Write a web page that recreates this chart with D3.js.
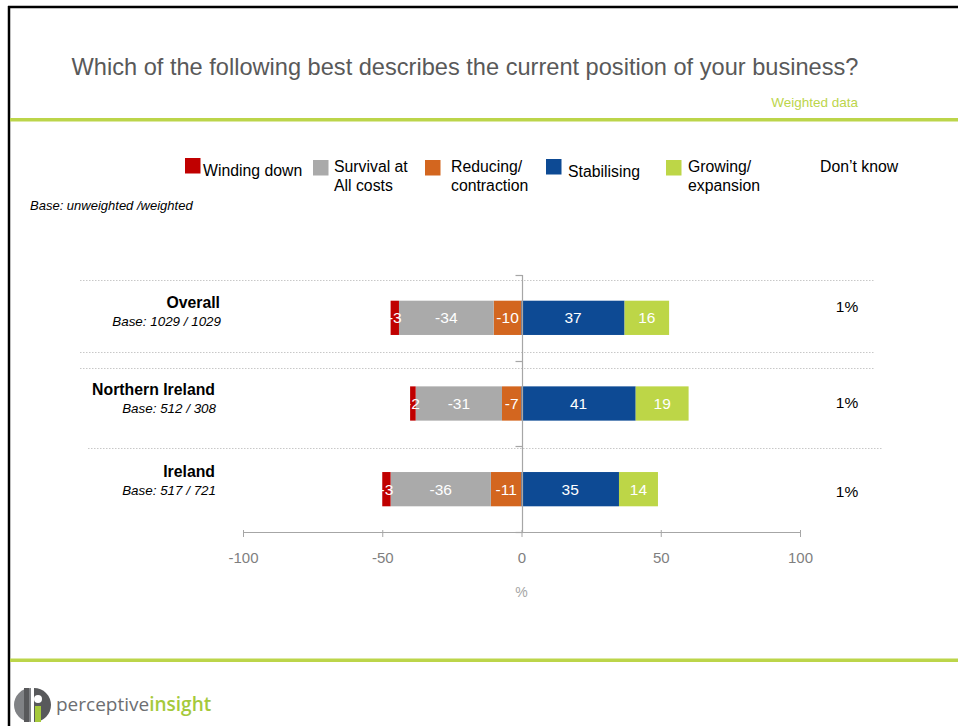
<!DOCTYPE html>
<html>
<head>
<meta charset="utf-8">
<script src="https://cdn.jsdelivr.net/npm/d3@7"></script>
<style>
  html, body { margin: 0; padding: 0; background: #fff; }
  svg { display: block; font-family: "Liberation Sans", Arial, sans-serif; }
</style>
</head>
<body>
<svg id="chart" width="958" height="726"></svg>
<script>
// Survey categories (rows) and their base sizes
const categories = ["Overall", "Northern Ireland", "Ireland"];
const bases = ["Base: 1029 / 1029", "Base: 512 / 308", "Base: 517 / 721"];

// Response shares (%); negative answers are plotted to the left of zero
const windingDown = [-3, -2, -3];
const survival = [-34, -31, -36];
const reducing = [-10, -7, -11];
const stabilising = [37, 41, 35];
const growing = [16, 19, 14];
const dontKnow = [1, 1, 1];

const xTicks = [-100, -50, 0, 50, 100];

// Series in stacking order outward from zero
const negSeries = [
  { key: "Reducing/ contraction", values: reducing, color: "#d3661f" },
  { key: "Survival at All costs", values: survival, color: "#aaaaaa" },
  { key: "Winding down", values: windingDown, color: "#c00000" }
];
const posSeries = [
  { key: "Stabilising", values: stabilising, color: "#0d4a94" },
  { key: "Growing/ expansion", values: growing, color: "#bdd647" }
];

const legendItems = [
  { lines: ["Winding down"], color: "#c00000", sx: 185, sy: 158, tx: 203, ty: 176 },
  { lines: ["Survival at", "All costs"], color: "#aaaaaa", sx: 313, sy: 160, tx: 334, ty: 172 },
  { lines: ["Reducing/", "contraction"], color: "#d3661f", sx: 425, sy: 160, tx: 451, ty: 172 },
  { lines: ["Stabilising"], color: "#0d4a94", sx: 546, sy: 159, tx: 568, ty: 177 },
  { lines: ["Growing/", "expansion"], color: "#bdd647", sx: 666, sy: 160, tx: 688, ty: 172 },
  { lines: ["Don\u2019t know"], color: null, sx: 0, sy: 0, tx: 820, ty: 172 }
];

const svg = d3.select("#chart");
const green = "#bcd54a";

// Slide frame
svg.append("line").attr("x1", 8).attr("x2", 958).attr("y1", 7).attr("y2", 7)
  .attr("stroke", "#000").attr("stroke-width", 2.5);
svg.append("line").attr("x1", 9).attr("x2", 9).attr("y1", 6).attr("y2", 726)
  .attr("stroke", "#000").attr("stroke-width", 2.5);

// Title block
svg.append("text").attr("x", 465).attr("y", 75).attr("text-anchor", "middle")
  .attr("font-size", 23.6).attr("fill", "#595959")
  .text("Which of the following best describes the current position of your business?");
svg.append("text").attr("x", 858).attr("y", 107).attr("text-anchor", "end")
  .attr("font-size", 13.5).attr("fill", green).text("Weighted data");
svg.append("rect").attr("x", 10).attr("y", 118).attr("width", 948).attr("height", 3.5).attr("fill", green);
svg.append("rect").attr("x", 10).attr("y", 658.5).attr("width", 948).attr("height", 3.5).attr("fill", green);

// Legend
const lg = svg.append("g").attr("class", "legend");
legendItems.forEach(d => {
  if (d.color) {
    lg.append("rect").attr("x", d.sx).attr("y", d.sy).attr("width", 15.5).attr("height", 15.5).attr("fill", d.color);
  }
  const t = lg.append("text").attr("x", d.tx).attr("y", d.ty).attr("font-size", 15.8).attr("fill", "#000");
  d.lines.forEach((l, i) => t.append("tspan").attr("x", d.tx).attr("dy", i === 0 ? 0 : 18.5).text(l));
});

svg.append("text").attr("x", 30).attr("y", 210).attr("font-size", 13).attr("font-style", "italic")
  .attr("fill", "#000").text("Base: unweighted /weighted");

// Scales
const x = d3.scaleLinear().domain([-100, 100]).range([243, 800]);
const y = d3.scaleBand().domain(categories).range([275, 532]).paddingInner(0.6).paddingOuter(0.3);

// Dotted row separators
const sepColor = "#c8c8c8";
const seps = [
  { y: 280, x1: 80, x2: 874 },
  { y: 352, x1: 80, x2: 874 },
  { y: 368, x1: 80, x2: 874 },
  { y: 448, x1: 88, x2: 882 }
];
svg.append("g").selectAll("line").data(seps).join("line")
  .attr("x1", d => d.x1).attr("x2", d => d.x2).attr("y1", d => d.y + 0.5).attr("y2", d => d.y + 0.5)
  .attr("stroke", sepColor).attr("stroke-width", 1).attr("stroke-dasharray", "1.5,1.5");

// Stack segments
function segments(series) {
  const out = [];
  categories.forEach((c, i) => {
    let acc = 0;
    series.forEach(s => {
      const v = s.values[i];
      out.push({ cat: c, v: v, start: acc, end: acc + v, color: s.color });
      acc += v;
    });
  });
  return out;
}
const segs = segments(negSeries).concat(segments(posSeries));

const bars = svg.append("g");
bars.selectAll("rect").data(segs).join("rect")
  .attr("x", d => x(Math.min(d.start, d.end)))
  .attr("width", d => Math.abs(x(d.end) - x(d.start)))
  .attr("y", d => y(d.cat))
  .attr("height", y.bandwidth())
  .attr("fill", d => d.color);
bars.selectAll("text").data(segs).join("text")
  .attr("x", d => x((d.start + d.end) / 2))
  .attr("y", d => y(d.cat) + y.bandwidth() / 2 + 5.5)
  .attr("text-anchor", "middle").attr("font-size", 15.5).attr("fill", "#fff")
  .text(d => d.v);

// Axes
const axisColor = "#a6a6a6";
const xAxis = svg.append("g").attr("transform", "translate(0,532)")
  .call(d3.axisBottom(x).tickValues(xTicks).tickSize(5).tickPadding(15).tickFormat(d => String(d)));
xAxis.select(".domain").attr("stroke", axisColor).attr("d", `M${x(-100)},0.5H${x(100)}`);
xAxis.selectAll(".tick line").attr("stroke", axisColor).attr("y1", -2);
xAxis.selectAll(".tick text").attr("fill", "#7f7f7f").attr("font-size", 15)
  .attr("font-family", "'Liberation Sans', Arial, sans-serif");

// Vertical zero axis with ticks at band boundaries
const zx = Math.round(x(0)) + 0.5;
const yAxis = svg.append("g");
yAxis.append("line").attr("x1", zx).attr("x2", zx).attr("y1", 275).attr("y2", 532)
  .attr("stroke", axisColor).attr("stroke-width", 1.2);
const boundaryY = [275].concat(categories.slice(1).map(c => y(c) - y.step() * y.paddingInner() / 2)).concat([532]);
yAxis.selectAll(".yt").data(boundaryY).join("line").attr("class", "yt")
  .attr("x1", zx - 7).attr("x2", zx).attr("y1", d => Math.round(d) + 0.5).attr("y2", d => Math.round(d) + 0.5)
  .attr("stroke", axisColor).attr("stroke-width", 1.2);

svg.append("text").attr("x", x(0)).attr("y", 597).attr("text-anchor", "middle")
  .attr("font-size", 14).attr("fill", "#a6a6a6").text("%");

// Category labels
const labels = svg.append("g");
categories.forEach((c, i) => {
  const cy = y(c) + y.bandwidth() / 2;
  const dy = [-10, -9, -12][i];
  labels.append("text").attr("x", [220, 215, 215][i]).attr("y", cy + dy)
    .attr("text-anchor", "end").attr("font-size", 15.8).attr("font-weight", "bold").attr("fill", "#000").text(c);
  labels.append("text").attr("x", [221, 216, 216][i]).attr("y", cy + dy + 18)
    .attr("text-anchor", "end").attr("font-size", 13.4).attr("font-style", "italic").attr("fill", "#000").text(bases[i]);
});

// Don't know values
const dkOffsets = [-6, 4, 8];
svg.append("g").selectAll("text").data(categories).join("text")
  .attr("x", 847).attr("y", (c, i) => y(c) + y.bandwidth() / 2 + dkOffsets[i])
  .attr("text-anchor", "middle").attr("font-size", 15.5).attr("fill", "#000")
  .text((c, i) => dontKnow[i] + "%");

// Brand mark
const logo = svg.append("g").attr("transform", "translate(33,705)");
logo.append("path").attr("d", "M-2,-17 A17,17 0 0 0 -2,17 Z").attr("fill", "#808285");
logo.append("path").attr("d", "M1,-17 A17,17 0 0 1 1,17 Z").attr("fill", "#58595b");
logo.append("rect").attr("x", -9).attr("y", -17).attr("width", 5).attr("height", 34).attr("fill", "#58595b");
logo.append("rect").attr("x", 2).attr("y", 1).attr("width", 6).attr("height", 16).attr("fill", "#a5c93b");
logo.append("circle").attr("cx", 5).attr("cy", -6).attr("r", 4).attr("fill", "#fff");
const brand = svg.append("text").attr("x", 56).attr("y", 711).attr("font-size", 19)
  .attr("font-family", "'Open Sans', 'Liberation Sans', sans-serif");
brand.append("tspan").attr("fill", "#6d6e71").text("perceptive");
brand.append("tspan").attr("fill", "#a5c93b").attr("font-weight", "600").text("insight");
</script>
</body>
</html>
